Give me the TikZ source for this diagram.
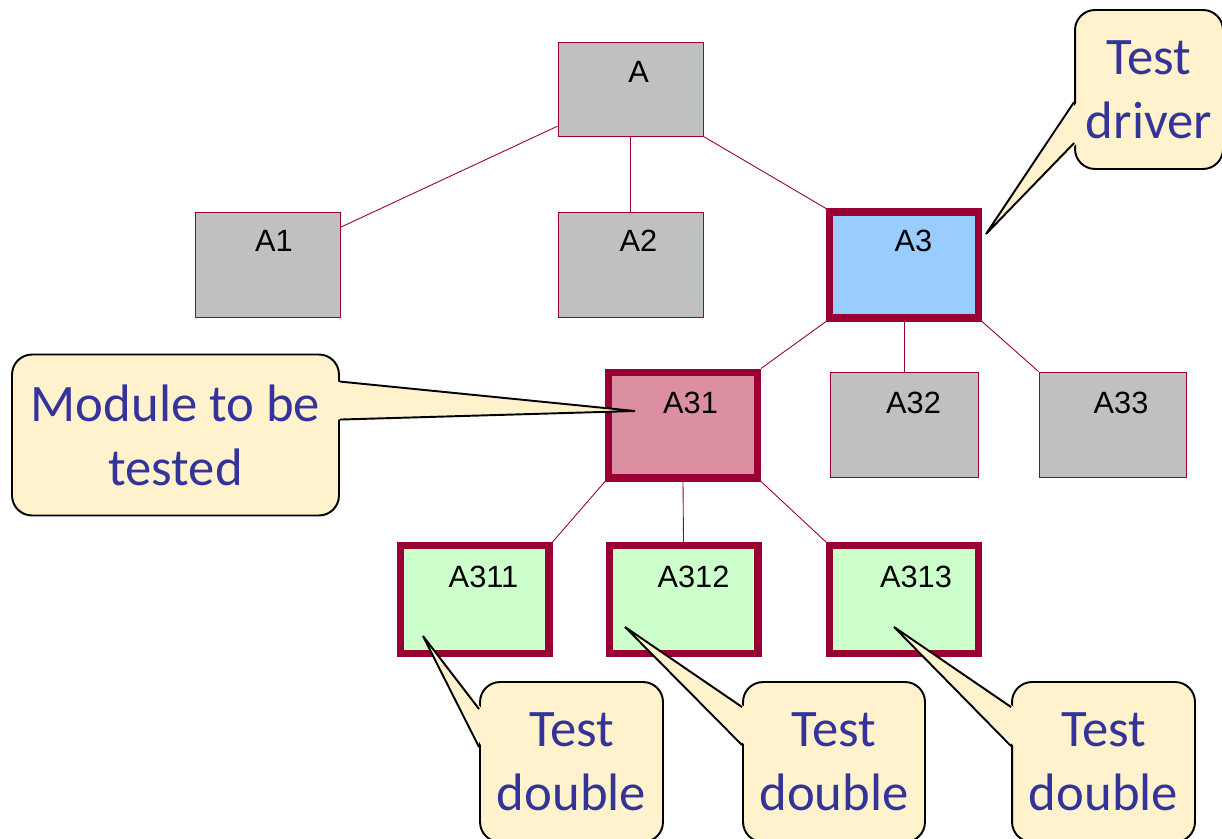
\documentclass[tikz,border=0pt]{standalone}
\usepackage{fontspec}
\setmainfont{Liberation Sans}
\newfontfamily\calloutfont{Carlito}
\usepackage{tikz}
\usetikzlibrary{calc}

\definecolor{frame}{RGB}{153,0,51}
\definecolor{boxgray}{RGB}{192,192,192}
\definecolor{driverblue}{RGB}{153,204,255}
\definecolor{modpink}{RGB}{219,143,160}
\definecolor{doublegreen}{RGB}{204,255,204}
\definecolor{cream}{RGB}{255,242,204}
\definecolor{calltext}{RGB}{51,51,153}

\tikzset{
    box/.style={draw=frame, line width=0.5pt, fill=boxgray, inner sep=0pt,
        minimum width=2.9cm, minimum height=2.1cm},
    thickbox/.style={draw=frame, line width=4pt, inner sep=0pt,
        minimum width=2.98cm, minimum height=2.12cm},
    lbl/.style={anchor=base, inner sep=0pt, font=\fontsize{17.5}{20}\selectfont},
    link/.style={draw=frame, line width=0.5pt},
    callout/.style={draw=black, line width=1.1pt, fill=cream, rounded corners=0.4cm,
        inner sep=0pt, align=center, text=calltext,
        font=\calloutfont\fontsize{30}{36.5}\selectfont},
    ptr/.style={draw=black, line width=1.1pt}
}

\begin{document}
\begin{tikzpicture}[x=0.02cm,y=-0.02cm]
                \useasboundingbox (0,0) rectangle (1222,838);
                \clip (0,0) rectangle (1222,838);

                \node[box, minimum height=1.88cm] (A) at (630.5,89) {};
                \node[lbl] (tA) at (638.5,83) {A};

                \node[box] (A1) at (267.5,264.5) {};
                \node[lbl] (tA1) at (274,251) {A1};

                \node[box] (A2) at (630.5,264.5) {};
                \node[lbl] (tA2) at (638.5,251) {A2};

                \node[thickbox, fill=driverblue] (A3) at (904,265) {};
                \node[lbl] (tA3) at (913.5,251) {A3};

                \node[thickbox, fill=modpink] (A31) at (683,425) {};
                \node[lbl] (tA31) at (690.5,413) {A31};

                \node[box, minimum width=2.96cm] (A32) at (904,424.5) {};
                \node[lbl] (tA32) at (913.5,413) {A32};

                \node[box, minimum width=2.94cm] (A33) at (1112.5,424.5) {};
                \node[lbl] (tA33) at (1121,413) {A33};

                \node[thickbox, fill=doublegreen, minimum height=2.16cm] (A311) at (474.5,599.5) {};
                \node[lbl] (tA311) at (483.5,587) {A311};

                \node[thickbox, fill=doublegreen, minimum height=2.16cm] (A312) at (683.5,599.5) {};
                \node[lbl] (tA312) at (693.5,587) {A312};

                \node[thickbox, fill=doublegreen, minimum height=2.16cm] (A313) at (904,599.5) {};
                \node[lbl] (tA313) at (916,587) {A313};

                \draw[link] (A.207) -- (A1.27);
                \draw[link] (A.south) -- (A2.north);
                \draw[link] (A.south east) -- (A3.north west);

                \draw[link] (A3.south west) -- (A31.north east);
                \draw[link] (A3.south) -- (A32.north);
                \draw[link] (A3.south east) -- (A33.north west);

                \draw[link] (A31.south west) -- (A311.north east);
                \draw[link] (A31.south) -- (A312.north);
                \draw[link] (A31.south east) -- (A313.north west);

                \node[callout, minimum width=2.96cm, minimum height=3.18cm] (drv) at (1149,89.5) {Test\\driver};
                \coordinate (pdrv) at (986,234);
                \fill[cream] ($(drv.north west)+(3,93)$) -- (pdrv) -- ($(drv.north west)+(3,134)$) -- cycle;
                \draw[ptr] ($(drv.north west)+(0,93)$) -- (pdrv) -- ($(drv.north west)+(0,134)$);

                \node[callout, minimum width=6.54cm, minimum height=3.22cm] (mod) at (175.5,435) {Module to be\\tested};
                \coordinate (pmod) at (635,411);
                \fill[cream] ($(mod.north east)+(-3,28)$) -- (pmod) -- ($(mod.north east)+(-3,66)$) -- cycle;
                \draw[ptr] ($(mod.north east)+(0,28)$) -- (pmod) -- ($(mod.north east)+(0,66)$);

                \node[callout, minimum width=3.66cm, minimum height=3.2cm] (td1) at (571.5,762) {Test\\double};
                \coordinate (ptd1) at (423,636);
                \fill[cream] ($(td1.north west)+(3,28)$) -- (ptd1) -- ($(td1.north west)+(3,66)$) -- cycle;
                \draw[ptr] ($(td1.north west)+(0,28)$) -- (ptd1) -- ($(td1.north west)+(0,66)$);

                \node[callout, minimum width=3.64cm, minimum height=3.2cm] (td2) at (834,762) {Test\\double};
                \coordinate (ptd2) at (625,627);
                \fill[cream] ($(td2.north west)+(3,26)$) -- (ptd2) -- ($(td2.north west)+(3,64)$) -- cycle;
                \draw[ptr] ($(td2.north west)+(0,26)$) -- (ptd2) -- ($(td2.north west)+(0,64)$);

                \node[callout, minimum width=3.66cm, minimum height=3.2cm] (td3) at (1103.5,762) {Test\\double};
                \coordinate (ptd3) at (894,627);
                \fill[cream] ($(td3.north west)+(3,26)$) -- (ptd3) -- ($(td3.north west)+(3,65)$) -- cycle;
                \draw[ptr] ($(td3.north west)+(0,26)$) -- (ptd3) -- ($(td3.north west)+(0,65)$);
\end{tikzpicture}
\end{document}
